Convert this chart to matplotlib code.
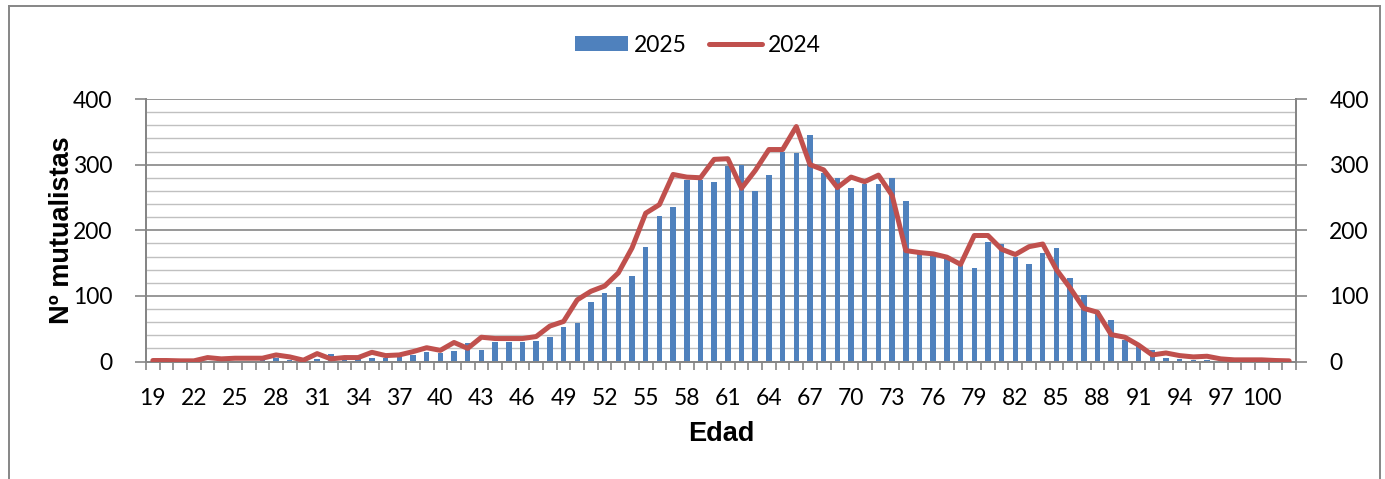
import matplotlib
matplotlib.use("Agg")
import matplotlib.pyplot as plt
from matplotlib.lines import Line2D
from matplotlib.patches import Patch
from matplotlib.ticker import MultipleLocator, FixedLocator
import numpy as np

# ages 19..102
ages = list(range(19, 103))
mut_2025 = [0, 0, 0, 0, 1, 1, 1, 1, 2, 5, 2, 1, 4, 11, 3, 4, 6, 5, 8, 10,
            15, 13, 16, 28, 17, 29, 29, 29, 32, 37, 53, 58, 91, 104, 113, 130,
            175, 221, 236, 277, 277, 274, 298, 299, 260, 284, 320, 317, 345,
            287, 279, 264, 271, 271, 279, 245, 165, 162, 157, 150, 143, 182,
            179, 160, 149, 166, 173, 128, 101, 77, 63, 33, 23, 18, 5, 4, 2, 2,
            1, 1, 0, 0, 0, 0]
mut_2024 = [1.5, 1.5, 1, 1, 6, 4, 5, 5, 5, 10, 7, 2, 12, 4, 6, 6, 14, 9, 10, 15,
            21, 17, 29, 20, 37, 35, 35, 35, 38, 54, 61, 94, 107, 115, 135, 173,
            226, 239, 285, 281, 280, 308, 309, 264, 291, 323, 323, 358, 300,
            292, 265, 281, 274, 284, 253, 169, 166, 164, 159, 148, 192, 192,
            171, 163, 175, 179, 140, 112, 81, 75, 41, 37, 25, 10, 13, 9, 7, 8,
            4, 2.5, 2.5, 2.5, 1.5, 1]
tick_ages = list(range(19, 101, 3))

BLUE = "#4F81BD"
RED = "#C0504D"
SPINE = "#868686"
MINOR = "#C0C0C0"
TICKFONT = "Lato"

fig = plt.figure(figsize=(13.85, 4.79), dpi=100)
ax = fig.add_axes([146 / 1385, 1 - 361.5 / 479, 1150 / 1385, 262.5 / 479])
ax2 = ax.twinx()

x = np.arange(len(ages))
ax.bar(x, mut_2025, width=0.4, color=BLUE, zorder=2)
ax2.plot(x, mut_2024, color=RED, lw=3.6, solid_joinstyle="round",
         solid_capstyle="round", zorder=3)

for a in (ax, ax2):
    a.set_xlim(-0.5, len(ages) - 0.5)
    a.set_ylim(0, 400)
    a.yaxis.set_major_locator(MultipleLocator(100))

# gridlines: minor every 20, major every 100
for v in range(20, 401, 20):
    major = v % 100 == 0
    ax.axhline(v, color=SPINE if major else MINOR, lw=1.2 if major else 1.0, zorder=1)

# x ticks: marks at category boundaries, labels every 3 ages
ax.xaxis.set_major_locator(FixedLocator([ages.index(t) for t in tick_ages]))
ax.set_xticklabels([str(t) for t in tick_ages])
ax.xaxis.set_minor_locator(FixedLocator(np.arange(-0.5, len(ages), 1.0)))
ax.tick_params(axis="x", which="major", length=0, pad=19, labelsize=16.5)
ax.tick_params(axis="x", which="minor", length=6, color=SPINE, width=1.2)
ax.tick_params(axis="y", length=8, color=SPINE, width=1.2, labelsize=16.5, pad=16)
ax2.tick_params(axis="y", length=8, color=SPINE, width=1.2, labelsize=16.5, pad=16)
ax2.xaxis.set_visible(False)
for lab in ax.get_xticklabels() + ax.get_yticklabels() + ax2.get_yticklabels():
    lab.set_fontfamily(TICKFONT)

for a in (ax, ax2):
    a.spines["top"].set_visible(False)
    for s in ("left", "right", "bottom"):
        a.spines[s].set_color(SPINE)
        a.spines[s].set_linewidth(1.4)

ax.set_xlabel("Edad", fontsize=19.5, fontweight="bold", family="Liberation Sans",
              labelpad=9)
ax.set_ylabel("Nº mutualistas", fontsize=19.5, fontweight="bold",
              family="Liberation Sans", labelpad=-1)

handles = [Patch(facecolor=BLUE), Line2D([], [], color=RED, lw=3.6, solid_capstyle="round")]
fig.legend(handles, ["2025", "2024"], loc="center", bbox_to_anchor=(698 / 1385, 1 - 45 / 479),
           ncol=2, frameon=False, prop={"family": TICKFONT, "size": 16.5},
           handlelength=2.3, handleheight=0.65, handletextpad=0.25, columnspacing=1.0)

# outer chart border (left, top, right)
bx0, bx1, by0 = 8.5 / 1385, 1379.5 / 1385, 1 - 5.5 / 479
for xs, ys in (([bx0, bx0], [0, by0]), ([bx0, bx1], [by0, by0]), ([bx1, bx1], [by0, 0])):
    fig.add_artist(Line2D(xs, ys, color=SPINE, lw=1.4, transform=fig.transFigure))

fig.savefig("out.png", dpi=100)
